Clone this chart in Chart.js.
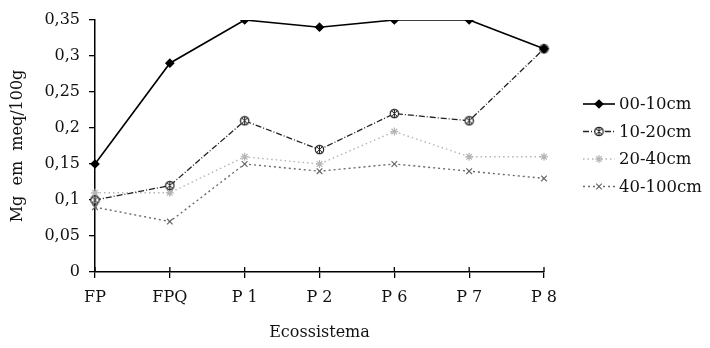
<!DOCTYPE html>
<html>
<head>
<meta charset="utf-8">
<script src="https://cdn.jsdelivr.net/npm/chart.js@4.4.1/dist/chart.umd.min.js"></script>
<style>
html,body{margin:0;padding:0;background:#fff;}
#wrap{width:710px;height:348px;position:relative;}
</style>
</head>
<body>
<div id="wrap"><canvas id="c" width="710" height="348"></canvas></div>
<script>
// ---- Data ----
const categories = ["FP", "FPQ", "P 1", "P 2", "P 6", "P 7", "P 8"];
const seriesNames = ["00-10cm", "10-20cm", "20-40cm", "40-100cm"];
const s0010 = [0.15, 0.29, 0.35, 0.34, 0.35, 0.35, 0.31];
const s1020 = [0.10, 0.12, 0.21, 0.17, 0.22, 0.21, 0.31];
const s2040 = [0.11, 0.11, 0.16, 0.15, 0.195, 0.16, 0.16];
const s40100 = [0.09, 0.07, 0.15, 0.14, 0.15, 0.14, 0.13];
const yTickValues = [0, 0.05, 0.1, 0.15, 0.2, 0.25, 0.3, 0.35];
const yTickLabels = ["0", "0,05", "0,1", "0,15", "0,2", "0,25", "0,3", "0,35"];
const yTitle = "Mg  em  meq/100g";
const xTitle = "Ecossistema";

const FONT = "'DejaVu Serif', 'Liberation Serif', serif";

// custom marker: circle with cross hatch
function makeCrossCircle(){
  const cv = document.createElement('canvas');
  cv.width = 11; cv.height = 11;
  const g = cv.getContext('2d');
  g.fillStyle = '#fff';
  g.strokeStyle = '#222';
  g.lineWidth = 1.2;
  g.beginPath(); g.arc(5.5,5.5,4.2,0,Math.PI*2); g.fill(); g.stroke();
  g.lineWidth = 1.0;
  g.beginPath();
  g.moveTo(2.8,2.8); g.lineTo(8.2,8.2);
  g.moveTo(8.2,2.8); g.lineTo(2.8,8.2);
  g.moveTo(5.5,1.3); g.lineTo(5.5,9.7);
  g.stroke();
  return cv;
}
const crossCircle = makeCrossCircle();

const styles = [
  {color:'#000', width:1.6, dash:[], point:'rectRot', radius:4, fill:'#000'},
  {color:'#222', width:1.3, dash:[6,2,1,2], point:crossCircle, radius:5, fill:'#fff'},
  {color:'#b5b5b5', width:1.4, dash:[1.5,3], point:'star', radius:4, fill:'#fff'},
  {color:'#6a6a6a', width:1.4, dash:[2,3], point:'crossRot', radius:4, fill:'#fff'}
];
const allSeries = [s0010, s1020, s2040, s40100];

const datasets = allSeries.map((d,i)=>({
  label: seriesNames[i],
  data: d,
  borderColor: styles[i].color,
  backgroundColor: styles[i].fill,
  borderWidth: styles[i].width,
  borderDash: styles[i].dash,
  pointStyle: styles[i].point,
  pointRadius: styles[i].radius,
  pointBorderColor: styles[i].color,
  pointBackgroundColor: styles[i].fill,
  pointBorderWidth: 1.2,
  tension: 0,
  fill: false
}));

const legendPlugin = {
  id: 'customLegend',
  afterDraw(chart){
    const ctx = chart.ctx;
    const x0 = 583, x1 = 615, tx = 619;
    const ys = [104, 131.5, 159, 186.5];
    ctx.save();
    ctx.font = "16.5px " + FONT;
    ctx.textBaseline = 'middle';
    ctx.textAlign = 'left';
    styles.forEach((s,i)=>{
      const y = ys[i];
      ctx.strokeStyle = s.color;
      ctx.lineWidth = s.width;
      ctx.setLineDash(s.dash);
      ctx.beginPath(); ctx.moveTo(x0,y); ctx.lineTo(x1,y); ctx.stroke();
      ctx.setLineDash([]);
      const opts = {pointStyle: s.point, radius: s.radius, borderWidth: 1.2, rotation: 0};
      ctx.fillStyle = s.fill;
      ctx.strokeStyle = s.color;
      ctx.lineWidth = 1.2;
      Chart.helpers.drawPoint(ctx, opts, (x0+x1)/2, y);
      ctx.fillStyle = '#111';
      ctx.fillText(seriesNames[i], tx, y+1);
    });
    ctx.restore();
  }
};

// x-axis tick marks that cross the axis line (upper half)
const crossTicks = {
  id: 'crossTicks',
  afterDraw(chart){
    const ctx = chart.ctx, xs = chart.scales.x, y = chart.chartArea.bottom;
    ctx.save();
    ctx.strokeStyle = '#000'; ctx.lineWidth = 1.3;
    categories.forEach((c,i)=>{
      const x = xs.getPixelForValue(i);
      ctx.beginPath(); ctx.moveTo(x, y); ctx.lineTo(x, y-5); ctx.stroke();
    });
    ctx.restore();
  }
};

new Chart(document.getElementById('c'), {
  type: 'line',
  data: { labels: categories, datasets },
  options: {
    responsive: false,
    animation: false,
    devicePixelRatio: 1,
    layout: { padding: { top: 20, right: 166, left: 0, bottom: 0 } },
    plugins: { legend: { display: false }, tooltip: { enabled: false } },
    scales: {
      x: {
        offset: false,
        afterFit(s){ s.height = 76; },
        grid: { display: true, drawOnChartArea: false, drawTicks: true, tickLength: 6, color: '#000', lineWidth: 1.3 },
        border: { display: true, color: '#000', width: 1.5 },
        ticks: { color: '#111', font: { family: FONT, size: 16 }, padding: 10, maxRotation: 0, autoSkip: false },
        title: { display: true, text: xTitle, color: '#111', font: { family: FONT, size: 16 }, padding: { top: 0, bottom: 6 } }
      },
      y: {
        min: 0, max: 0.35,
        afterFit(s){ s.width = 95; },
        afterBuildTicks(s){ s.ticks = yTickValues.map(v=>({value:v})); },
        grid: { display: true, drawOnChartArea: false, drawTicks: true, tickLength: 6, color: '#000', lineWidth: 1.3 },
        border: { display: true, color: '#000', width: 1.5 },
        ticks: {
          color: '#111', font: { family: FONT, size: 16 }, padding: 9,
          callback(v){ const i = yTickValues.findIndex(t=>Math.abs(t-v)<1e-9); return i>=0 ? yTickLabels[i] : ''; }
        },
        title: { display: true, text: yTitle, color: '#111', font: { family: FONT, size: 16 }, padding: { top: 8, bottom: 4 } }
      }
    }
  },
  plugins: [legendPlugin, crossTicks]
});
</script>
</body>
</html>
